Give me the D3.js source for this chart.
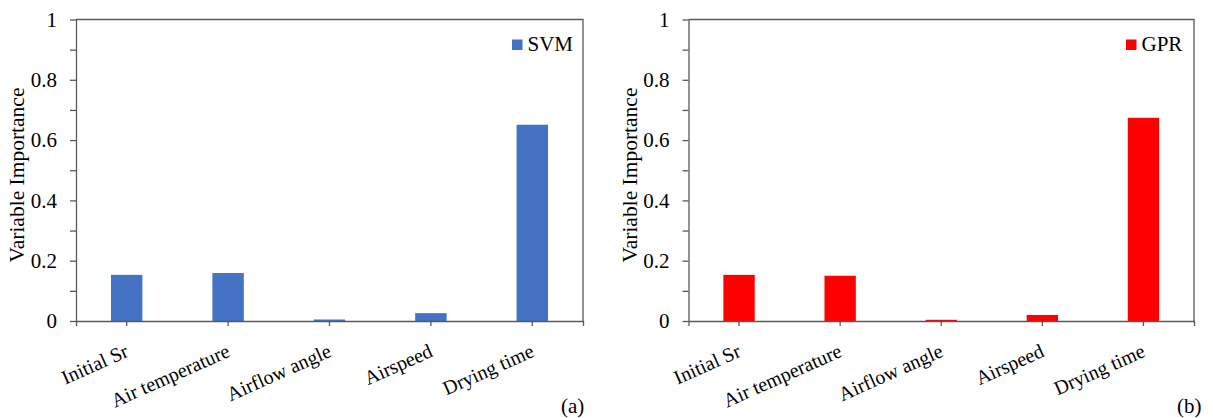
<!DOCTYPE html>
<html>
<head>
<meta charset="utf-8">
<script src="https://cdn.jsdelivr.net/npm/d3@7"></script>
<style>
  body { margin: 0; background: #fff; }
  .axis path, .axis line { stroke: #595959; stroke-width: 1.3; }
</style>
</head>
<body>
<svg id="chart" width="1213" height="418" font-family="Liberation Serif"></svg>
<script>
// data
var categories = ["Initial Sr", "Air temperature", "Airflow angle", "Airspeed", "Drying time"];
var svmValues = [0.153, 0.159, 0.005, 0.026, 0.651];
var gprValues = [0.153, 0.150, 0.004, 0.020, 0.674];
var yTicks = [0, 0.1, 0.2, 0.3, 0.4, 0.5, 0.6, 0.7, 0.8, 0.9, 1];

var FONT = "Liberation Serif";
var svg = d3.select("#chart");

function drawPanel(opts) {
    var w = opts.right - opts.left;
    var h = 321 - 19.5;
    var g = svg.append("g").attr("transform", "translate(" + opts.left + ",19.5)");

    var x = d3.scaleBand().domain(categories).range([0, w]);
    var y = d3.scaleLinear().domain([0, 1]).range([h, 0]);

    // frame top + right
    g.append("path")
        .attr("d", "M0,0 H" + w + " V" + h)
        .attr("fill", "none").attr("stroke", "#595959").attr("stroke-width", 1.3);

    // bars
    var bw = x.bandwidth() * 0.31;
    g.selectAll("rect.bar")
        .data(opts.values)
        .enter().append("rect")
        .attr("class", "bar")
        .attr("x", function (d, i) { return x(categories[i]) + x.bandwidth() / 2 - bw / 2; })
        .attr("y", function (d) { return y(d); })
        .attr("width", bw)
        .attr("height", function (d) { return h - y(d); })
        .attr("fill", opts.color);

    // y axis, labels only every 0.2
    var yAxis = d3.axisLeft(y)
        .tickValues(yTicks)
        .tickSize(6)
        .tickSizeOuter(0)
        .tickFormat(function (d) {
            var r = Math.round(d * 10);
            return r % 2 === 0 ? d3.format("~g")(d) : "";
        });
    var ya = g.append("g").attr("class", "axis").call(yAxis)
        .attr("font-family", FONT).attr("font-size", 21);
    ya.selectAll("text").attr("x", -19).attr("fill", "#000");

    // x axis
    var xAxis = d3.axisBottom(x).tickSize(5).tickSizeOuter(5).tickFormat("");
    g.append("g").attr("class", "axis")
        .attr("transform", "translate(0," + h + ")")
        .call(xAxis);

    // rotated category labels
    g.selectAll("text.cat")
        .data(categories)
        .enter().append("text")
        .attr("class", "cat")
        .attr("font-family", FONT)
        .attr("fill", "#000")
        .attr("text-anchor", "end")
        .attr("font-size", 20)
        .attr("transform", function (d) {
            return "translate(" + (x(d) + x.bandwidth() / 2 + 3) + "," + (h + 35) + ") rotate(-24)";
        })
        .text(function (d) { return d; });

    // y title
    g.append("text")
        .attr("font-family", FONT)
        .attr("fill", "#000")
        .attr("text-anchor", "middle")
        .attr("font-size", 21.5)
        .attr("transform", "translate(" + opts.titleX + "," + 155.5 + ") rotate(-90)")
        .text("Variable Importance");

    // legend
    var lg = g.append("g").attr("transform", "translate(" + (w - opts.legendOffset) + ",20)");
    lg.append("rect").attr("width", 10.5).attr("height", 10.5).attr("fill", opts.color);
    lg.append("text").attr("x", 15.5).attr("y", 11)
        .attr("font-family", FONT).attr("fill", "#000")
        .attr("font-size", 21).text(opts.name);

    // panel tag
    svg.append("text")
        .attr("x", opts.tagX).attr("y", 413)
        .attr("font-family", FONT).attr("fill", "#000")
        .attr("font-size", 21)
        .text(opts.tag);
}

drawPanel({ left: 76, right: 583, values: svmValues, color: "#4472C4", name: "SVM",
    titleX: -52, legendOffset: 71, tag: "(a)", tagX: 561 });
drawPanel({ left: 688.5, right: 1194, values: gprValues, color: "#FF0000", name: "GPR",
    titleX: -52, legendOffset: 68, tag: "(b)", tagX: 1177 });
</script>
</body>
</html>
